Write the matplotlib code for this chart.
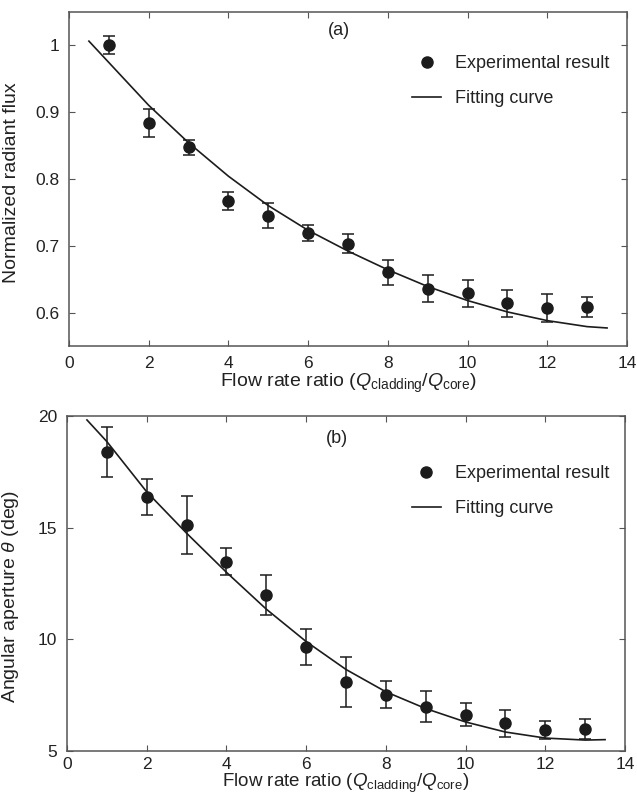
import matplotlib
matplotlib.use("Agg")
import matplotlib.pyplot as plt

plt.rcParams["font.family"] = ["Liberation Sans", "DejaVu Sans"]
plt.rcParams["mathtext.fontset"] = "custom"
plt.rcParams["mathtext.rm"] = "Liberation Sans"
plt.rcParams["mathtext.it"] = "Liberation Sans:italic"

# flow rate ratio of the measured points
ratio = [1, 2, 3, 4, 5, 6, 7, 8, 9, 10, 11, 12, 13]

# (a) normalized radiant flux
flux = [1.000, 0.883, 0.847, 0.767, 0.745, 0.719, 0.703, 0.660, 0.636, 0.629, 0.614, 0.607, 0.608]
flux_err = [0.014, 0.021, 0.011, 0.013, 0.019, 0.012, 0.014, 0.019, 0.020, 0.020, 0.020, 0.021, 0.015]
fit_x = [0.5, 1, 2, 3, 4, 5, 6, 7, 8, 9, 10, 11, 12, 13, 13.5]
flux_fit = [1.006, 0.974, 0.910, 0.854, 0.804, 0.760, 0.723, 0.692, 0.664, 0.639, 0.618, 0.601, 0.588, 0.579, 0.577]

# (b) angular aperture
theta = [18.39, 16.36, 15.10, 13.48, 11.99, 9.67, 8.09, 7.52, 6.99, 6.63, 6.24, 5.94, 5.99]
theta_err = [1.11, 0.80, 1.30, 0.61, 0.91, 0.80, 1.11, 0.60, 0.69, 0.50, 0.60, 0.40, 0.44]
theta_fit = [19.82, 18.85, 16.60, 14.75, 13.00, 11.35, 9.90, 8.65, 7.65, 6.90, 6.30, 5.85, 5.58, 5.49, 5.51]

XLABEL = r"Flow rate ratio ($Q_{\rm cladding}/Q_{\rm core}$)"
INK = "#1c1c1c"
SPINE = "#555555"


def style_axes(ax, pad):
    for side in ax.spines.values():
        side.set_color(SPINE)
        side.set_linewidth(1.1)
    ax.tick_params(direction="in", length=4, width=0.8, color=SPINE, labelcolor="#222222",
                   top=True, right=True, labelsize=12.5, pad=7)
    ax.tick_params(axis="x", pad=pad)
    ax.set_xlim(0, 14)
    ax.set_xticks(range(0, 15, 2))


def draw_panel(ax, y, yerr, fit, tag, legend_xy, pad, xlabel_size):
    ax.errorbar(ratio, y, yerr=yerr, fmt="none", ecolor=INK, elinewidth=1.1,
                capsize=4, capthick=1.1, zorder=3)
    dots, = ax.plot(ratio, y, "o", color=INK, ms=8, zorder=4)
    curve, = ax.plot(fit_x, fit, color=INK, lw=1.2)
    ax.text(0.483, tag[1], tag[0], transform=ax.transAxes, ha="center", va="center",
            fontsize=13, color="#222222")
    ax.legend([dots, curve], ["Experimental result", "Fitting curve"], loc="upper left",
              bbox_to_anchor=legend_xy, frameon=False, fontsize=13, borderpad=0,
              borderaxespad=0, labelspacing=1.0, handlelength=1.6, handletextpad=0.8,
              labelcolor="#222222")
    style_axes(ax, pad)
    ax.set_xlabel(XLABEL, fontsize=xlabel_size, labelpad=1, color="#222222")


fig = plt.figure(figsize=(6.37, 7.96), dpi=100)
ax1 = fig.add_axes([0.1083, 0.5653, 0.876, 0.420])
ax2 = fig.add_axes([0.1052, 0.0565, 0.876, 0.421])

draw_panel(ax1, flux, flux_err, flux_fit, ("(a)", 0.945), (0.615, 0.87), 7, 14)
ax1.set_ylim(0.55, 1.05)
ax1.set_yticks([0.6, 0.7, 0.8, 0.9, 1.0])
ax1.set_yticklabels(["0.6", "0.7", "0.8", "0.9", "1"])
ax1.set_ylabel("Normalized radiant flux", fontsize=14, color="#222222")
ax1.yaxis.set_label_coords(-0.088, 0.49)

draw_panel(ax2, theta, theta_err, theta_fit, ("(b)", 0.933), (0.618, 0.854), 4, 13.5)
ax2.set_ylim(5, 20)
ax2.set_yticks([5, 10, 15, 20])
ax2.set_ylabel(r"Angular aperture $\theta$ (deg)", fontsize=14, color="#222222")
ax2.yaxis.set_label_coords(-0.082, 0.46)
ax2.xaxis.label.set_y(0)
ax2.xaxis.set_label_coords(0.5, -0.062)

fig.savefig("out.png", dpi=100)
